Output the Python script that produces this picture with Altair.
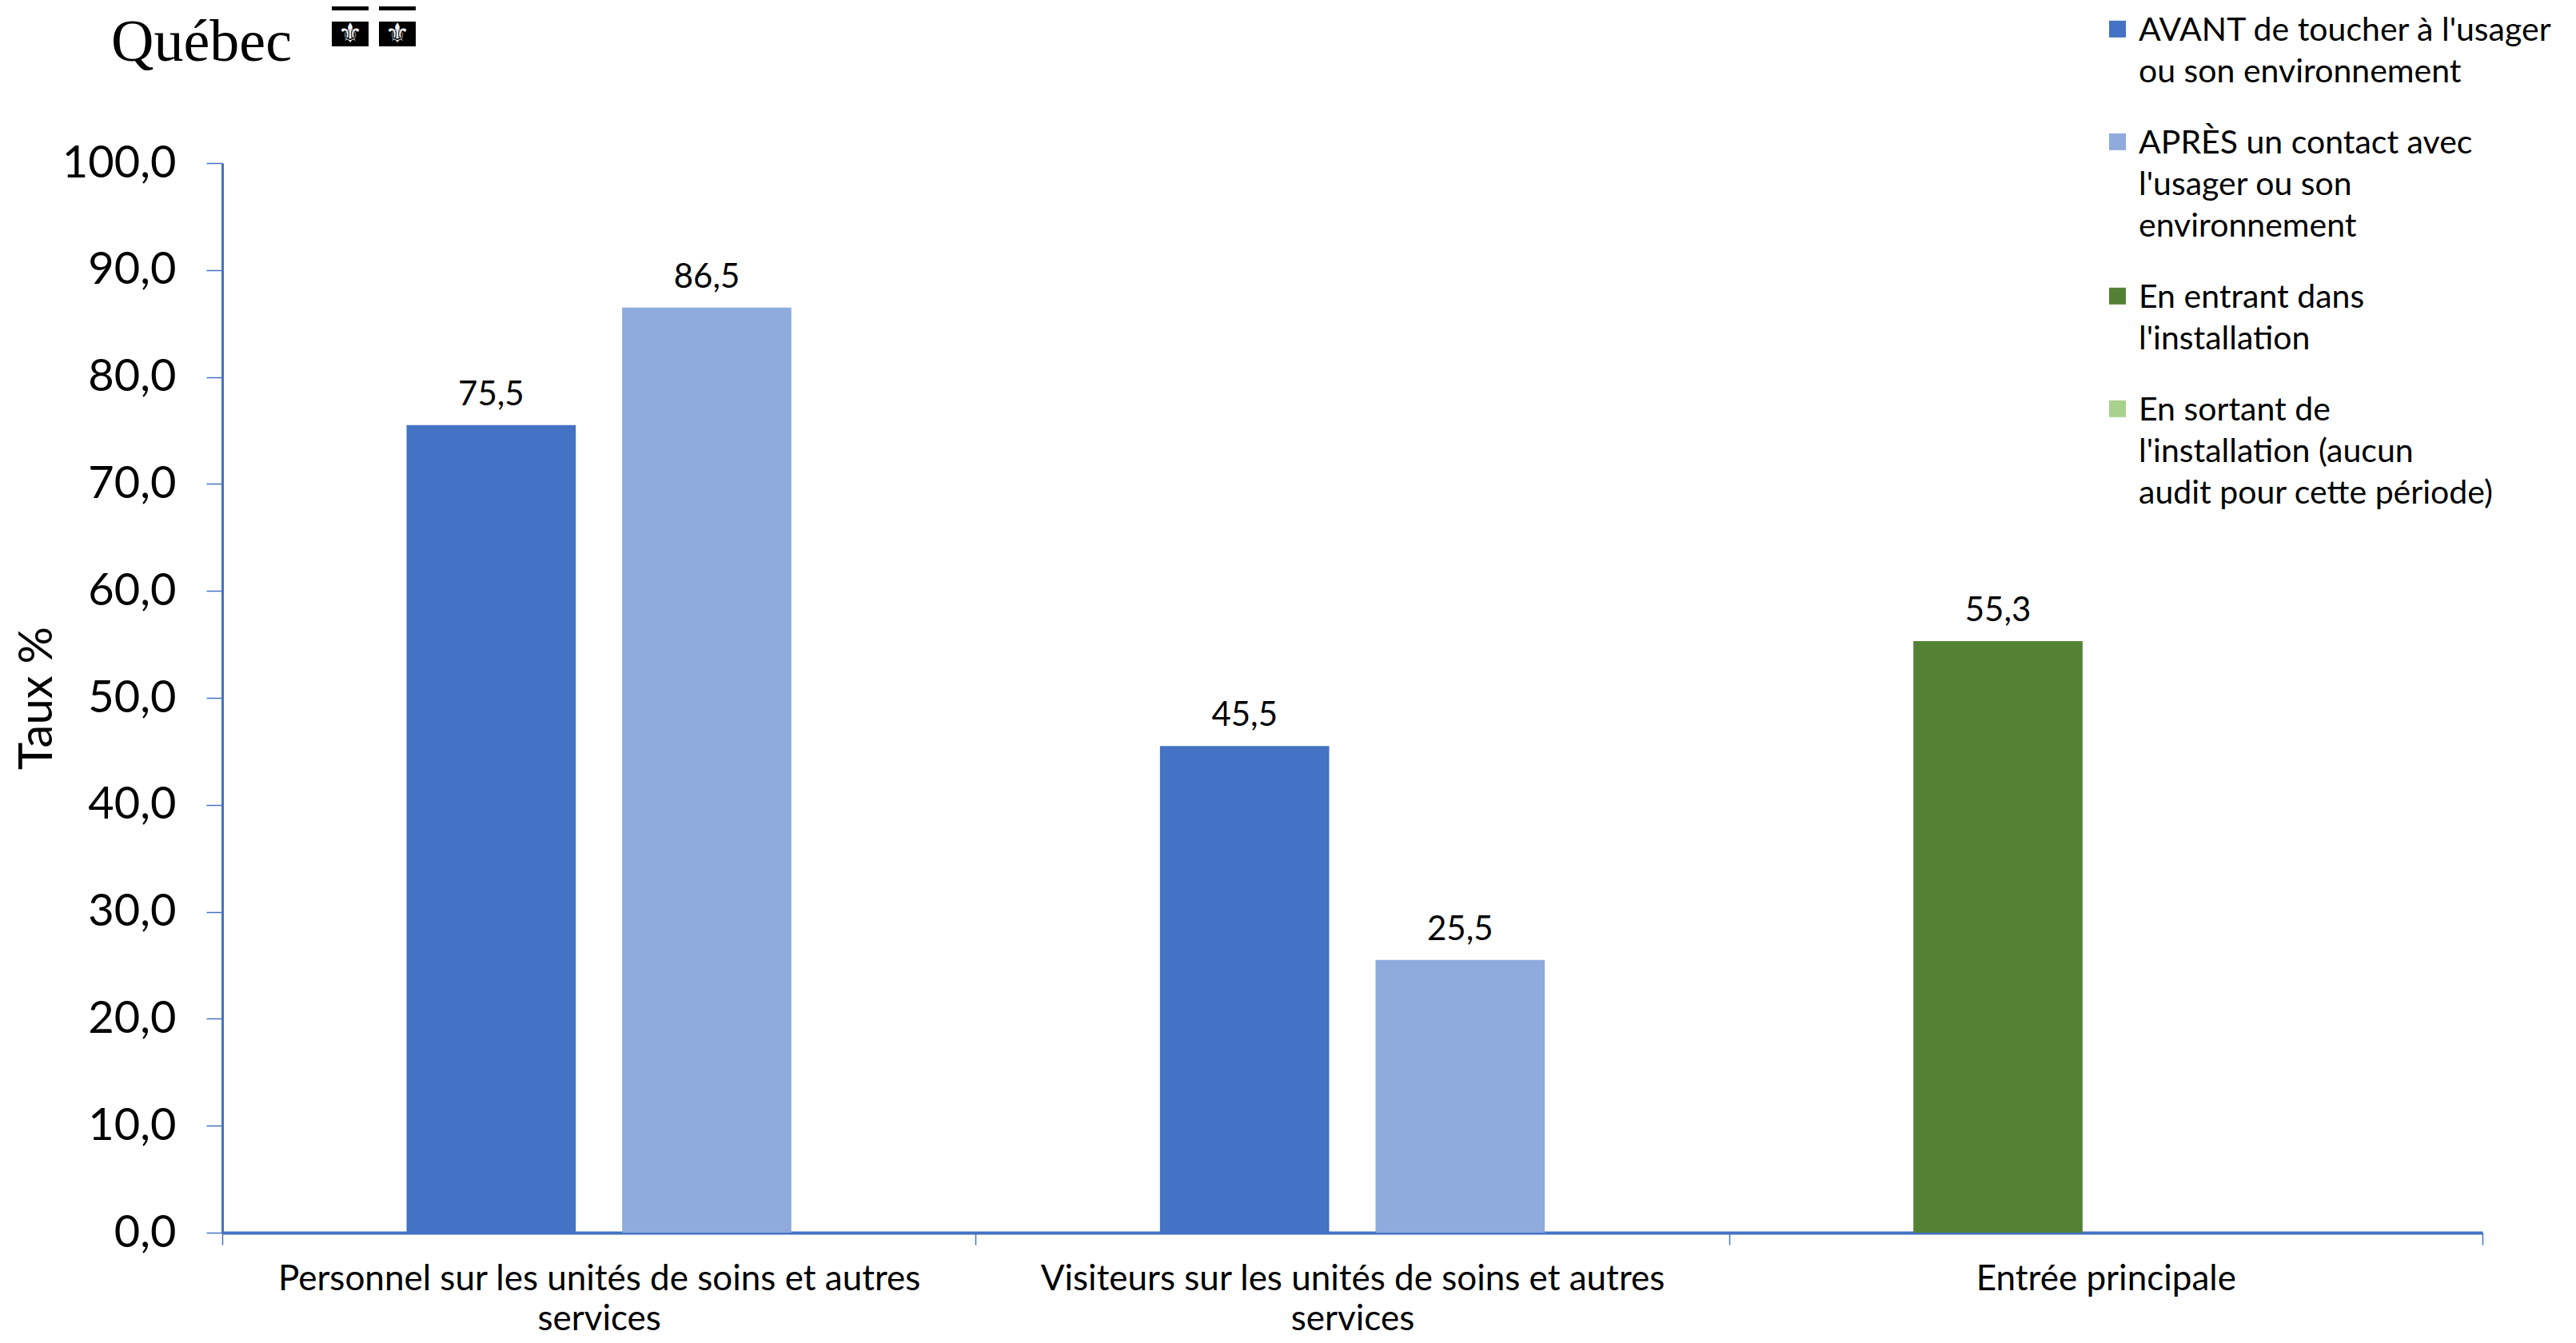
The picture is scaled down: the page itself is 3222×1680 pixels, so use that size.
import json
import altair as alt
import pandas as pd

# ---------------- data ----------------
categories = [
    "Personnel sur les unités de soins et autres services",
    "Visiteurs sur les unités de soins et autres services",
    "Entrée principale",
]
category_lines = [
    ["Personnel sur les unités de soins et autres", "services"],
    ["Visiteurs sur les unités de soins et autres", "services"],
    ["Entrée principale"],
]
series = [
    "AVANT de toucher à l'usager ou son environnement",
    "APRÈS un contact avec l'usager ou son environnement",
    "En entrant dans l'installation",
    "En sortant de l'installation (aucun audit pour cette période)",
]
series_lines = [
    ["AVANT de toucher à l'usager", "ou son environnement"],
    ["APRÈS un contact avec", "l'usager ou son", "environnement"],
    ["En entrant dans", "l'installation"],
    ["En sortant de", "l'installation (aucun", "audit pour cette période)"],
]
series_slot = [1, 2, 1, 2]
colors = ["#4472C4", "#8FAADC", "#548235", "#A9D18E"]

avant = [75.5, 45.5, None]
apres = [86.5, 25.5, None]
entrant = [None, None, 55.3]
sortant = [None, None, None]
values_by_series = [avant, apres, entrant, sortant]

y_ticks = [0, 10, 20, 30, 40, 50, 60, 70, 80, 90, 100]

rows = []
for s, slot, vals in zip(series, series_slot, values_by_series):
    for c, v in zip(categories, vals):
        if v is not None:
            rows.append({"category": c, "series": s, "slot": slot, "value": v,
                         "label": f"{v:.1f}".replace(".", ",")})
df = pd.DataFrame(rows)


def lines_expr(keys, lines):
    expr = "datum.label"
    for k, ls in reversed(list(zip(keys, lines))):
        expr = f"datum.label === {json.dumps(k, ensure_ascii=False)} ? {json.dumps(ls, ensure_ascii=False)} : ({expr})"
    return expr


BLUE = "#4472C4"
FONT = "Lato"

x_enc = alt.X(
    "category:N", sort=categories,
    scale=alt.Scale(paddingInner=0, paddingOuter=0),
    axis=alt.Axis(
        title=None, labelAngle=0, labelFontSize=44, labelLineHeight=50,
        labelPadding=21, labelColor="black", labelLimit=2000,
        labelExpr=lines_expr(categories, category_lines),
        tickBand="extent", tickSize=15, tickColor=BLUE, tickWidth=1.5,
        domainColor=BLUE, domainWidth=4,
    ),
)
xoff_enc = alt.XOffset("slot:N", scale=alt.Scale(paddingInner=0.215, paddingOuter=0.855))
y_enc = alt.Y(
    "value:Q",
    scale=alt.Scale(domain=[0, 100], nice=False),
    axis=alt.Axis(
        values=y_ticks, grid=False, title="Taux %",
        labelExpr="replace(format(datum.value, '.1f'), '.', ',')",
        labelFontSize=56, labelColor="black", labelPadding=38,
        tickSize=20, tickColor=BLUE, tickWidth=1.5,
        domainColor=BLUE, domainWidth=3,
        titleFontSize=58, titleFontWeight="normal", titleColor="black",
        titleAngle=-90, titleX=-214, titleY=669, titleAlign="center",
        titleBaseline="alphabetic",
    ),
)

base = alt.Chart(df)

bars = base.mark_bar().encode(
    x=x_enc, xOffset=xoff_enc, y=y_enc,
    color=alt.Color(
        "series:N",
        scale=alt.Scale(domain=series, range=colors),
        legend=alt.Legend(
            title=None, orient="none", legendX=2350, legendY=-206,
            direction="vertical", padding=0,
            symbolType="M-1,0.7H1V2.7H-1Z", symbolSize=441,
            symbolStrokeWidth=0, symbolOpacity=1,
            labelFontSize=41, labelColor="black", labelFont=FONT,
            labelBaseline="top", labelLimit=2000, labelOffset=6,
            labelExpr=lines_expr(series, series_lines),
            rowPadding=28,
        ),
    ),
)

labels = base.mark_text(baseline="bottom", dy=-16, fontSize=42, color="black", font=FONT).encode(
    x=alt.X("category:N", sort=categories), xOffset=alt.XOffset("slot:N"), y=alt.Y("value:Q"),
    text="label:N",
)

# ---------------- Québec logo ----------------
logo_layers = [
    alt.Chart(alt.Data(values=[{"t": "Québec"}])).mark_text(
        font="Liberation Serif", fontSize=74, align="left", baseline="alphabetic", color="black"
    ).encode(text="t:N", x=alt.value(-139), y=alt.value(-128))
]
for fx, fy, glyph in [(137, -222, False), (196, -222, False), (137, -177, True), (196, -177, True)]:
    logo_layers.append(
        alt.Chart(alt.Data(values=[{"f": "⚜"}])).mark_rect(color="black").encode(
            x=alt.value(fx), x2=alt.value(fx + 46), y=alt.value(fy), y2=alt.value(fy + 31)
        )
    )
    if glyph:
        logo_layers.append(
            alt.Chart(alt.Data(values=[{"f": "⚜"}])).mark_text(
                color="white", fontSize=34, font="DejaVu Sans", align="center", baseline="middle"
            ).encode(text="f:N", x=alt.value(fx + 23), y=alt.value(fy + 16))
        )

chart = alt.layer(bars, labels, *logo_layers).properties(
    width=2827, height=1338,
    autosize=alt.AutoSizeParams(type="none"),
    padding={"left": 270, "top": 196, "right": 109, "bottom": 130},
).configure(
    font=FONT,
    view=alt.ViewConfig(stroke=None),
    style={"guide-label": {"lineHeight": 52}},
)

chart.save("out.html", embed_options={"renderer": "svg", "actions": False})
